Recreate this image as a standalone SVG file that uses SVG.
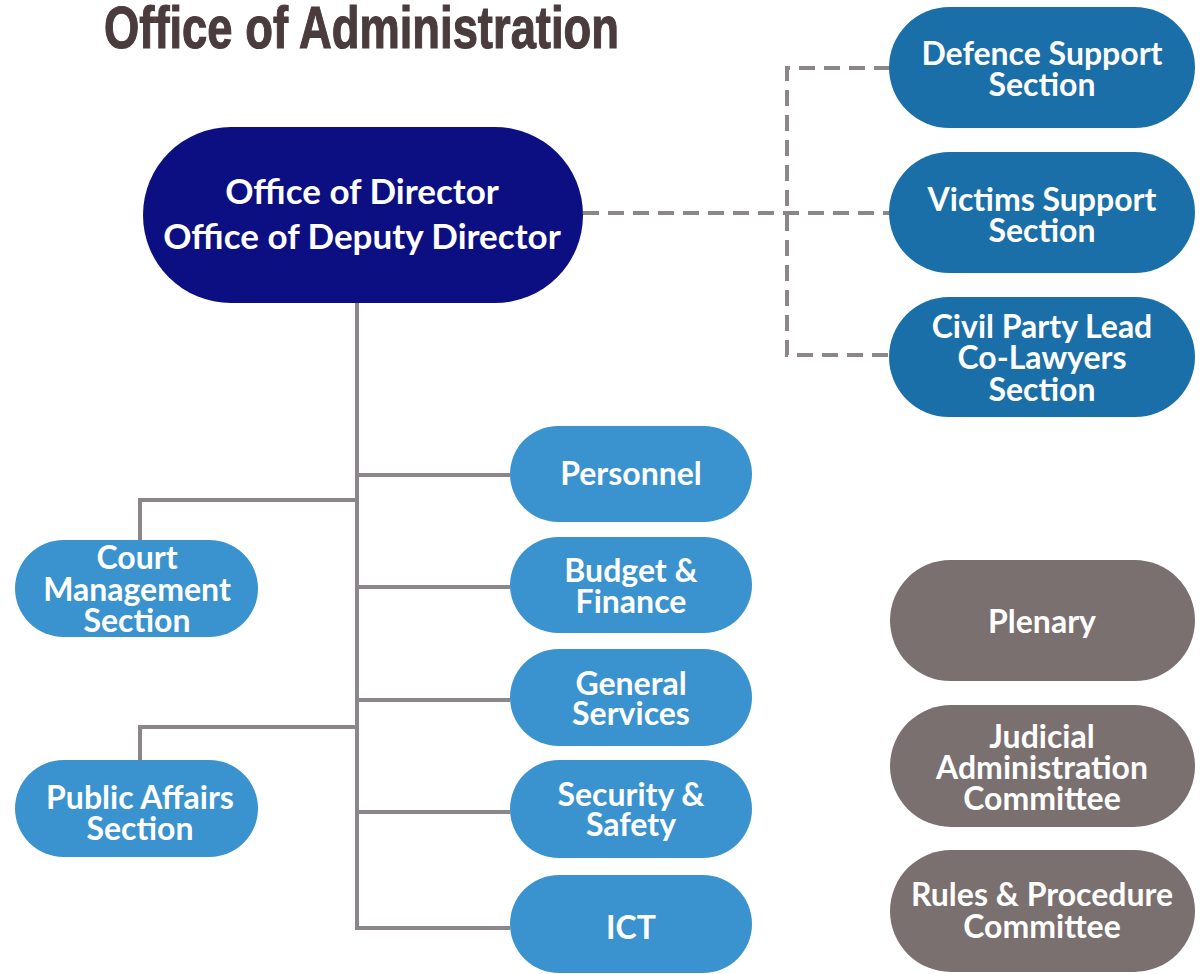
<svg xmlns="http://www.w3.org/2000/svg" width="1203" height="974" viewBox="0 0 1203 974">
  <style>
    .title { font-family: "Liberation Sans", Arial, sans-serif; font-weight: bold; font-size: 60px; fill: #4a3b3c; stroke: #4a3b3c; stroke-width: 1.2px; }
    .lbl { font-family: Lato, "Noto Sans", "Liberation Sans", sans-serif; font-weight: bold; font-size: 32px; fill: #ffffff; text-anchor: middle; }
    .big { font-size: 35px; }
    .navy { fill: #0b0f82; }
    .blue { fill: #1b6fa8; }
    .sky { fill: #3a93cf; }
    .grey { fill: #7b7070; }
    .solid { fill: none; stroke: #8c868a; stroke-width: 4; }
    .dash { fill: none; stroke: #8c868a; stroke-width: 4; stroke-dasharray: 16 9; }
  </style>
  <rect width="1203" height="974" fill="#ffffff"/>

  <text class="title" x="104" y="48" textLength="515" lengthAdjust="spacingAndGlyphs">Office of Administration</text>

  <!-- connectors -->
  <g id="connectors">
    <path class="dash" d="M583 213 H890 M890 68 H787 V355 H890"/>
    <path class="solid" d="M357 302 V928 H510 M357 475 H510 M357 587 H510 M357 700 H510 M357 812 H510"/>
    <path class="solid" d="M357 500 H140 V540 M357 727 H140 V760"/>
  </g>

  <g id="director">
    <rect class="navy" x="143" y="127" width="440" height="176" rx="88"/>
    <text class="lbl big" x="362" y="204">Office of Director</text>
    <text class="lbl big" x="362" y="249">Office of Deputy Director</text>
  </g>

  <g id="defence-support">
    <rect class="blue" x="889" y="7" width="306" height="121" rx="60.5"/>
    <text class="lbl" x="1042" y="65">Defence Support</text>
    <text class="lbl" x="1042" y="96">Section</text>
  </g>
  <g id="victims-support">
    <rect class="blue" x="889" y="152" width="306" height="121" rx="60.5"/>
    <text class="lbl" x="1042" y="211">Victims Support</text>
    <text class="lbl" x="1042" y="242">Section</text>
  </g>
  <g id="civil-party">
    <rect class="blue" x="889" y="297" width="306" height="120" rx="60"/>
    <text class="lbl" x="1042" y="338">Civil Party Lead</text>
    <text class="lbl" x="1042" y="369">Co-Lawyers</text>
    <text class="lbl" x="1042" y="401">Section</text>
  </g>

  <g id="personnel">
    <rect class="sky" x="510" y="426" width="242" height="96" rx="48"/>
    <text class="lbl" x="631" y="485">Personnel</text>
  </g>
  <g id="budget-finance">
    <rect class="sky" x="510" y="537" width="242" height="96" rx="48"/>
    <text class="lbl" x="631" y="582">Budget &amp;</text>
    <text class="lbl" x="631" y="613">Finance</text>
  </g>
  <g id="general-services">
    <rect class="sky" x="510" y="649" width="242" height="97" rx="48.5"/>
    <text class="lbl" x="631" y="695">General</text>
    <text class="lbl" x="631" y="725">Services</text>
  </g>
  <g id="security-safety">
    <rect class="sky" x="510" y="760" width="242" height="98" rx="49"/>
    <text class="lbl" x="631" y="806">Security &amp;</text>
    <text class="lbl" x="631" y="836">Safety</text>
  </g>
  <g id="ict">
    <rect class="sky" x="510" y="875" width="242" height="98" rx="49"/>
    <text class="lbl" x="631" y="939">ICT</text>
  </g>

  <g id="court-management">
    <rect class="sky" x="15" y="540" width="243" height="97" rx="48.5"/>
    <text class="lbl" x="137" y="569">Court</text>
    <text class="lbl" x="137" y="601">Management</text>
    <text class="lbl" x="137" y="632">Section</text>
  </g>
  <g id="public-affairs">
    <rect class="sky" x="15" y="760" width="243" height="97" rx="48.5"/>
    <text class="lbl" x="140" y="809">Public Affairs</text>
    <text class="lbl" x="140" y="840">Section</text>
  </g>

  <g id="plenary">
    <rect class="grey" x="890" y="560" width="305" height="121" rx="60.5"/>
    <text class="lbl" x="1042" y="633">Plenary</text>
  </g>
  <g id="judicial-administration">
    <rect class="grey" x="890" y="705" width="305" height="122" rx="61"/>
    <text class="lbl" x="1042" y="748">Judicial</text>
    <text class="lbl" x="1042" y="779">Administration</text>
    <text class="lbl" x="1042" y="810">Committee</text>
  </g>
  <g id="rules-procedure">
    <rect class="grey" x="890" y="850" width="305" height="122" rx="61"/>
    <text class="lbl" x="1042" y="906">Rules &amp; Procedure</text>
    <text class="lbl" x="1042" y="938">Committee</text>
  </g>
</svg>
